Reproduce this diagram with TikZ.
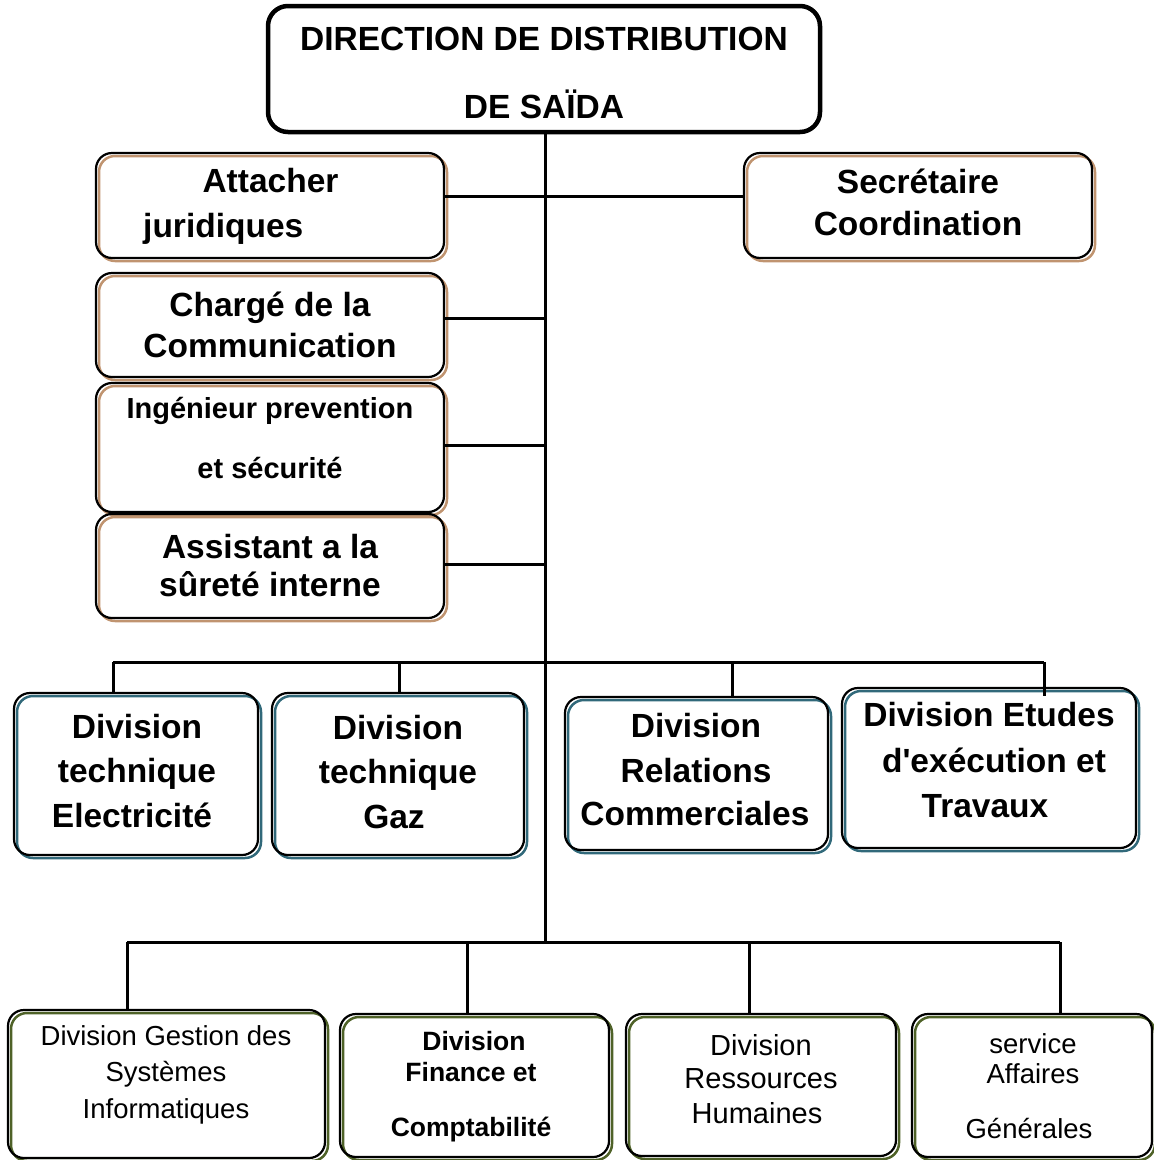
\documentclass[tikz,border=0pt]{standalone}
\usepackage{fontspec}
\setmainfont{Liberation Sans}
\usetikzlibrary{fit}
\definecolor{brownc}{RGB}{192,148,112}
\definecolor{tealc}{RGB}{49,105,122}
\definecolor{olivec}{RGB}{79,98,40}
\tikzset{
  bx/.style={draw=black, line width=2.2, rounded corners=16, inner sep=0},
  topbx/.style={draw=black, line width=4.5, rounded corners=20, inner sep=0},
  conn/.style={draw=black, line width=3},
  tb/.style={anchor=base, inner sep=0, font=\bfseries\fontsize{33.5}{40}\selectfont},
  tm/.style={anchor=base, inner sep=0, font=\bfseries\fontsize{29}{34}\selectfont},
  ts/.style={anchor=base, inner sep=0, font=\bfseries\fontsize{26.5}{32}\selectfont},
  tr/.style={anchor=base, inner sep=0, font=\fontsize{27.5}{33}\selectfont},
  trr/.style={anchor=base, inner sep=0, font=\fontsize{29}{34}\selectfont},
}
\newcommand\obox[6]{%
  \draw[#2, line width=2.5, rounded corners=16] ({#3+3},{#4+3}) rectangle ({#5+3},{#6+3});
  \node[bx, fit={(#3,#4) (#5,#6)}] (#1) {};}
\begin{document}
\begin{tikzpicture}[x=1pt,y=-1pt]
\useasboundingbox (0,0) rectangle (1154,1160);
% top box
\node[topbx, fit={(268,6) (820,132)}] (top) {};
\node[tb] (top1) at (544,50) {DIRECTION DE DISTRIBUTION};
\node[tb] (top2) at (544,118) {DE SAÏDA};
% staff boxes
\obox{att}{brownc}{96}{153}{444}{258}
\obox{sec}{brownc}{744}{153}{1092}{258}
\obox{cha}{brownc}{96}{273}{444}{377}
\obox{ing}{brownc}{96}{383}{444}{512}
\obox{ass}{brownc}{96}{514}{444}{618}
\node[tb] (att1) at (270.5,192) {Attacher};
\node[tb,anchor=base west] (att2) at (143,237) {juridiques};
\node[tb] (sec1) at (918,193) {Secrétaire};
\node[tb] (sec2) at (918,235) {Coordination};
\node[tb] (cha1) at (270,316) {Chargé de la};
\node[tb] (cha2) at (270,357) {Communication};
\node[tm] (ing1) at (270,418) {Ingénieur prevention};
\node[tm] (ing2) at (270,478) {et sécurité};
\node[tb] (ass1) at (270,558) {Assistant a la};
\node[tb] (ass2) at (270,596) {sûreté interne};
% divisions
\obox{ele}{tealc}{14}{693}{258}{855}
\obox{gaz}{tealc}{272}{693}{524}{855}
\obox{rc}{tealc}{565}{697}{828}{850}
\obox{etu}{tealc}{842}{688}{1136}{848}
\node[tb] (ele1) at (137,738) {Division};
\node[tb] (ele2) at (137,782) {technique};
\node[tb] (ele3) at (132,827) {Electricité};
\node[tb] (gaz1) at (398,739) {Division};
\node[tb] (gaz2) at (398,783) {technique};
\node[tb] (gaz3) at (394,828) {Gaz};
\node[tb] (rc1) at (696,737) {Division};
\node[tb] (rc2) at (696,782) {Relations};
\node[tb] (rc3) at (695,825) {Commerciales};
\node[tb] (etu1) at (989,726) {Division Etudes};
\node[tb] (etu2) at (994,772) {d\textquotesingle exécution et};
\node[tb] (etu3) at (985,817) {Travaux};
% bottom row
\obox{gsi}{olivec}{8}{1010}{325}{1158}
\obox{fin}{olivec}{340}{1014}{609}{1157}
\obox{rh}{olivec}{626}{1014}{896}{1156}
\obox{sag}{olivec}{912}{1014}{1152}{1157}
\node[tr] (gsi1) at (166,1045) {Division Gestion des};
\node[tr] (gsi2) at (166,1081) {Systèmes};
\node[tr] (gsi3) at (166,1118) {Informatiques};
\node[ts] (fin1) at (474,1050) {Division};
\node[ts] (fin2) at (471,1081) {Finance et};
\node[ts] (fin3) at (471,1136) {Comptabilité};
\node[trr] (rh1) at (761,1055) {Division};
\node[trr] (rh2) at (761,1088) {Ressources};
\node[trr] (rh3) at (757,1123) {Humaines};
\node[tr] (sag1) at (1033,1053) {service};
\node[tr] (sag2) at (1033,1083) {Affaires};
\node[tr] (sag3) at (1029,1138) {Générales};
% connector coordinates
\coordinate (h1) at (545,196);
\coordinate (h2) at (545,318);
\coordinate (h3) at (545,445);
\coordinate (h4) at (545,564);
\coordinate (d1) at (113,662);
\coordinate (d2) at (399,662);
\coordinate (d3) at (732,662);
\coordinate (d4) at (1044,662);
\coordinate (e1) at (127,942);
\coordinate (e2) at (467,942);
\coordinate (e3) at (749,942);
\coordinate (e4) at (1060,942);
\coordinate (tr0) at (545,132);
\coordinate (tr1) at (545,942);
% connectors
\draw[conn] (tr0) -- (tr1);
\draw[conn] (att.east |- h1) -- (sec.west |- h1);
\draw[conn] (cha.east |- h2) -- (h2);
\draw[conn] (ing.east |- h3) -- (h3);
\draw[conn] (ass.east |- h4) -- (h4);
\draw[conn] (d1) -- (d4);
\draw[conn] (d1) -- (d1 |- ele.north);
\draw[conn] (d2) -- (d2 |- gaz.north);
\draw[conn] (d3) -- (d3 |- rc.north);
\draw[conn] (d4) -- ([yshift=-9]d4 |- etu.north);
\draw[conn] (e1) -- (e4);
\draw[conn] (e1) -- (e1 |- gsi.north);
\draw[conn] (e2) -- (e2 |- fin.north);
\draw[conn] (e3) -- (e3 |- rh.north);
\draw[conn] (e4) -- (e4 |- sag.north);
\end{tikzpicture}
\end{document}
